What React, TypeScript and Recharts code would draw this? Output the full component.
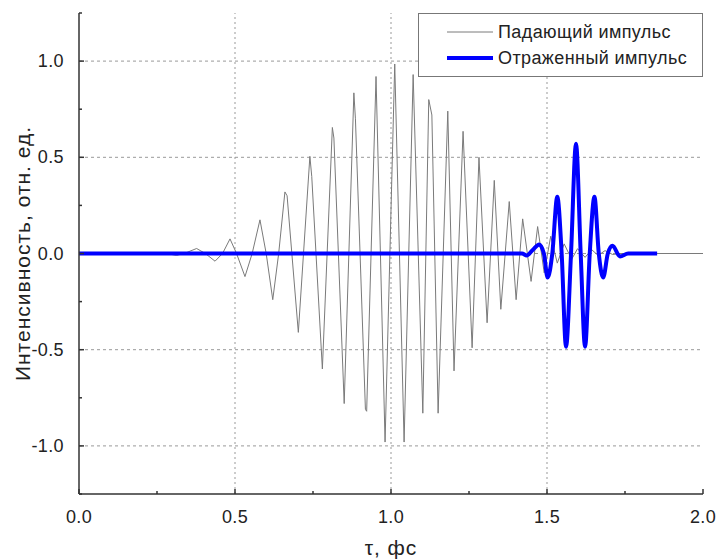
import React from 'react';
import { LineChart, Line, XAxis, YAxis, ReferenceLine, Legend } from 'recharts';

// incident pulse (падающий)
const incidentTau = [
  0, 0.28, 0.313, 0.345, 0.377, 0.405, 0.436, 0.46, 0.484, 0.505, 0.532, 0.555, 0.58, 0.6,
  0.621, 0.64, 0.66, 0.667, 0.703, 0.74, 0.746, 0.78, 0.812, 0.817, 0.85, 0.881, 0.886, 0.918,
  0.922, 0.952, 0.981, 1.012, 1.042, 1.071, 1.102, 1.121, 1.131, 1.151, 1.182, 1.202, 1.231,
  1.26, 1.282, 1.308, 1.331, 1.352, 1.379, 1.401, 1.422, 1.449, 1.47, 1.491, 1.512, 1.533,
  1.555, 1.579, 1.598, 1.622, 1.643, 1.664, 1.686, 1.71, 1.74, 2.0,
];
const incidentVal = [
  0, 0, -0.01, 0.005, 0.026, 0.0, -0.04, 0.0, 0.076, 0.0, -0.12, 0.0, 0.175, 0.0,
  -0.24, 0.0, 0.32, 0.3, -0.41, 0.505, 0.4, -0.6, 0.655, 0.6, -0.78, 0.835, 0.7, -0.81,
  -0.82, 0.92, -0.98, 0.985, -0.98, 0.93, -0.83, 0.8, 0.72, -0.83, 0.74, -0.61, 0.635,
  -0.49, 0.5, -0.36, 0.38, -0.29, 0.27, -0.24, 0.18, -0.145, 0.14, -0.1, 0.09, -0.05,
  0.05, -0.03, 0.025, -0.02, 0.02, -0.01, 0.015, -0.005, 0, 0,
];

// reflected pulse (отраженный)
const reflectedTau = [
  0, 1.42, 1.435, 1.455, 1.475, 1.49, 1.502, 1.517, 1.533, 1.547, 1.561, 1.577, 1.593, 1.608,
  1.622, 1.637, 1.652, 1.666, 1.68, 1.695, 1.71, 1.734, 1.76, 1.853,
];
const reflectedVal = [
  0, 0, -0.01, 0.02, 0.047, 0, -0.125, 0, 0.295, 0, -0.485, 0, 0.57, 0,
  -0.485, 0, 0.295, 0, -0.125, 0, 0.04, -0.015, 0, 0,
];

const seriesNames = ['Падающий импульс', 'Отраженный импульс'];
const seriesColors = ['#7a7a7a', '#0000ff'];
const seriesWidths = [1, 4];

const xTicks = [0, 0.25, 0.5, 0.75, 1, 1.25, 1.5, 1.75, 2];
const yTicks = [-1.25, -1, -0.75, -0.5, -0.25, 0, 0.25, 0.5, 0.75, 1, 1.25];
const gridX = [0.5, 1, 1.5];
const gridY = [-1, -0.5, 0, 0.5, 1];

const incidentData = incidentTau.map((t, i) => ({ t, v: incidentVal[i] }));
const reflectedData = reflectedTau.map((t, i) => ({ t, v: reflectedVal[i] }));

const FONT = '"Liberation Sans", Arial, sans-serif';
const AXIS = '#333';

const isMajor = (v: number) => Math.abs(v * 2 - Math.round(v * 2)) < 1e-6;

const BottomTick = (p: any) => {
  const v = p.payload.value;
  const major = isMajor(v);
  return (
    <g>
      <line x1={p.x} y1={p.y} x2={p.x} y2={p.y - (major ? 5 : 3)} stroke={AXIS} strokeWidth={1.5} />
      {major && (
        <text x={p.x} y={p.y + 29} textAnchor="middle" fontSize={18} letterSpacing={0.4}
          fontFamily={FONT} fill="#222">
          {v.toFixed(1)}
        </text>
      )}
    </g>
  );
};

const TopTick = (p: any) => {
  const major = isMajor(p.payload.value);
  return <line x1={p.x} y1={p.y} x2={p.x} y2={p.y + (major ? 5 : 3)} stroke={AXIS} strokeWidth={1.5} />;
};

const LeftTick = (p: any) => {
  const v = p.payload.value;
  const major = isMajor(v);
  const labelled = major && Math.abs(v) <= 1;
  return (
    <g>
      <line x1={p.x} y1={p.y} x2={p.x + (major ? 5 : 3)} y2={p.y} stroke={AXIS} strokeWidth={1.5} />
      {labelled && (
        <text x={p.x - 15} y={p.y + 6} textAnchor="end" fontSize={18} letterSpacing={0.4}
          fontFamily={FONT} fill="#222">
          {v.toFixed(1)}
        </text>
      )}
    </g>
  );
};

const RightTick = (p: any) => {
  const major = isMajor(p.payload.value);
  return <line x1={p.x} y1={p.y} x2={p.x - (major ? 5 : 3)} y2={p.y} stroke={AXIS} strokeWidth={1.5} />;
};

const YTitle = (p: any) => {
  const vb = p.viewBox;
  const x = vb.x + 3;
  const y = vb.y + vb.height / 2;
  return (
    <text x={x} y={y} transform={`rotate(-90 ${x} ${y})`} textAnchor="middle" dominantBaseline="central"
      fontSize={21} letterSpacing={1} fontFamily={FONT} fill="#222">
      Интенсивность, отн. ед.
    </text>
  );
};

const XTitle = (p: any) => {
  const vb = p.viewBox;
  return (
    <text x={vb.x + vb.width / 2} y={vb.y + 61} textAnchor="middle" fontSize={21} letterSpacing={1}
      fontFamily={FONT} fill="#222">
      τ, фс
    </text>
  );
};

const LegendBox = () => (
  <div style={{
    width: 285, height: 64, boxSizing: 'border-box', border: '1px solid #777', background: '#fff',
    paddingTop: 5, fontFamily: FONT, fontSize: 18, letterSpacing: 0.4, color: '#222',
  }}>
    {seriesNames.map((name, i) => (
      <div key={name} style={{ display: 'flex', alignItems: 'center', height: 26 }}>
        <svg width={79} height={26} style={{ display: 'block' }}>
          <line x1={28} y1={13} x2={74} y2={13} stroke={seriesColors[i]} strokeWidth={seriesWidths[i]} />
        </svg>
        <span>{name}</span>
      </div>
    ))}
  </div>
);

export default function App() {
  return (
    <div style={{ position: 'absolute', left: 0, top: 0, background: '#fff' }}>
      <LineChart width={717} height={559} margin={{ top: 13, right: 14, bottom: 35, left: 19 }}>
        <XAxis xAxisId="b" dataKey="t" type="number" domain={[0, 2]} ticks={xTicks} allowDataOverflow
          height={30} tickSize={0} tickMargin={0} tick={BottomTick} tickLine={false}
          axisLine={{ stroke: AXIS, strokeWidth: 1.5 }} label={XTitle} />
        <XAxis xAxisId="t" orientation="top" dataKey="t" type="number" domain={[0, 2]} ticks={xTicks}
          allowDataOverflow height={0} tickSize={0} tickMargin={0} tick={TopTick} tickLine={false}
          axisLine={{ stroke: AXIS, strokeWidth: 1.5 }} />
        <YAxis yAxisId="l" type="number" domain={[-1.25, 1.25]} ticks={yTicks} allowDataOverflow
          width={60} tickSize={0} tickMargin={0} tick={LeftTick} tickLine={false}
          axisLine={{ stroke: AXIS, strokeWidth: 1.5 }} label={YTitle} />
        <YAxis yAxisId="r" orientation="right" type="number" domain={[-1.25, 1.25]} ticks={yTicks}
          allowDataOverflow width={0} tickSize={0} tickMargin={0} tick={RightTick} tickLine={false}
          axisLine={{ stroke: AXIS, strokeWidth: 1.5 }} />
        {gridX.map((g) => (
          <ReferenceLine key={'x' + g} xAxisId="b" yAxisId="l" x={g} stroke="#999" strokeDasharray="2 3" />
        ))}
        {gridY.map((g) => (
          <ReferenceLine key={'y' + g} xAxisId="b" yAxisId="l" y={g} stroke="#999" strokeDasharray="3 3" />
        ))}
        <Line xAxisId="b" yAxisId="l" data={incidentData} dataKey="v" name={seriesNames[0]} type="linear"
          stroke={seriesColors[0]} strokeWidth={seriesWidths[0]} dot={false} isAnimationActive={false} />
        <Line xAxisId="b" yAxisId="l" data={reflectedData} dataKey="v" name={seriesNames[1]} type="monotone"
          stroke={seriesColors[1]} strokeWidth={seriesWidths[1]} dot={false} isAnimationActive={false} />
        <Legend layout="horizontal" verticalAlign="middle" align="center" content={LegendBox}
          wrapperStyle={{ top: 13, left: 418, width: 285 }} />
      </LineChart>
    </div>
  );
}
